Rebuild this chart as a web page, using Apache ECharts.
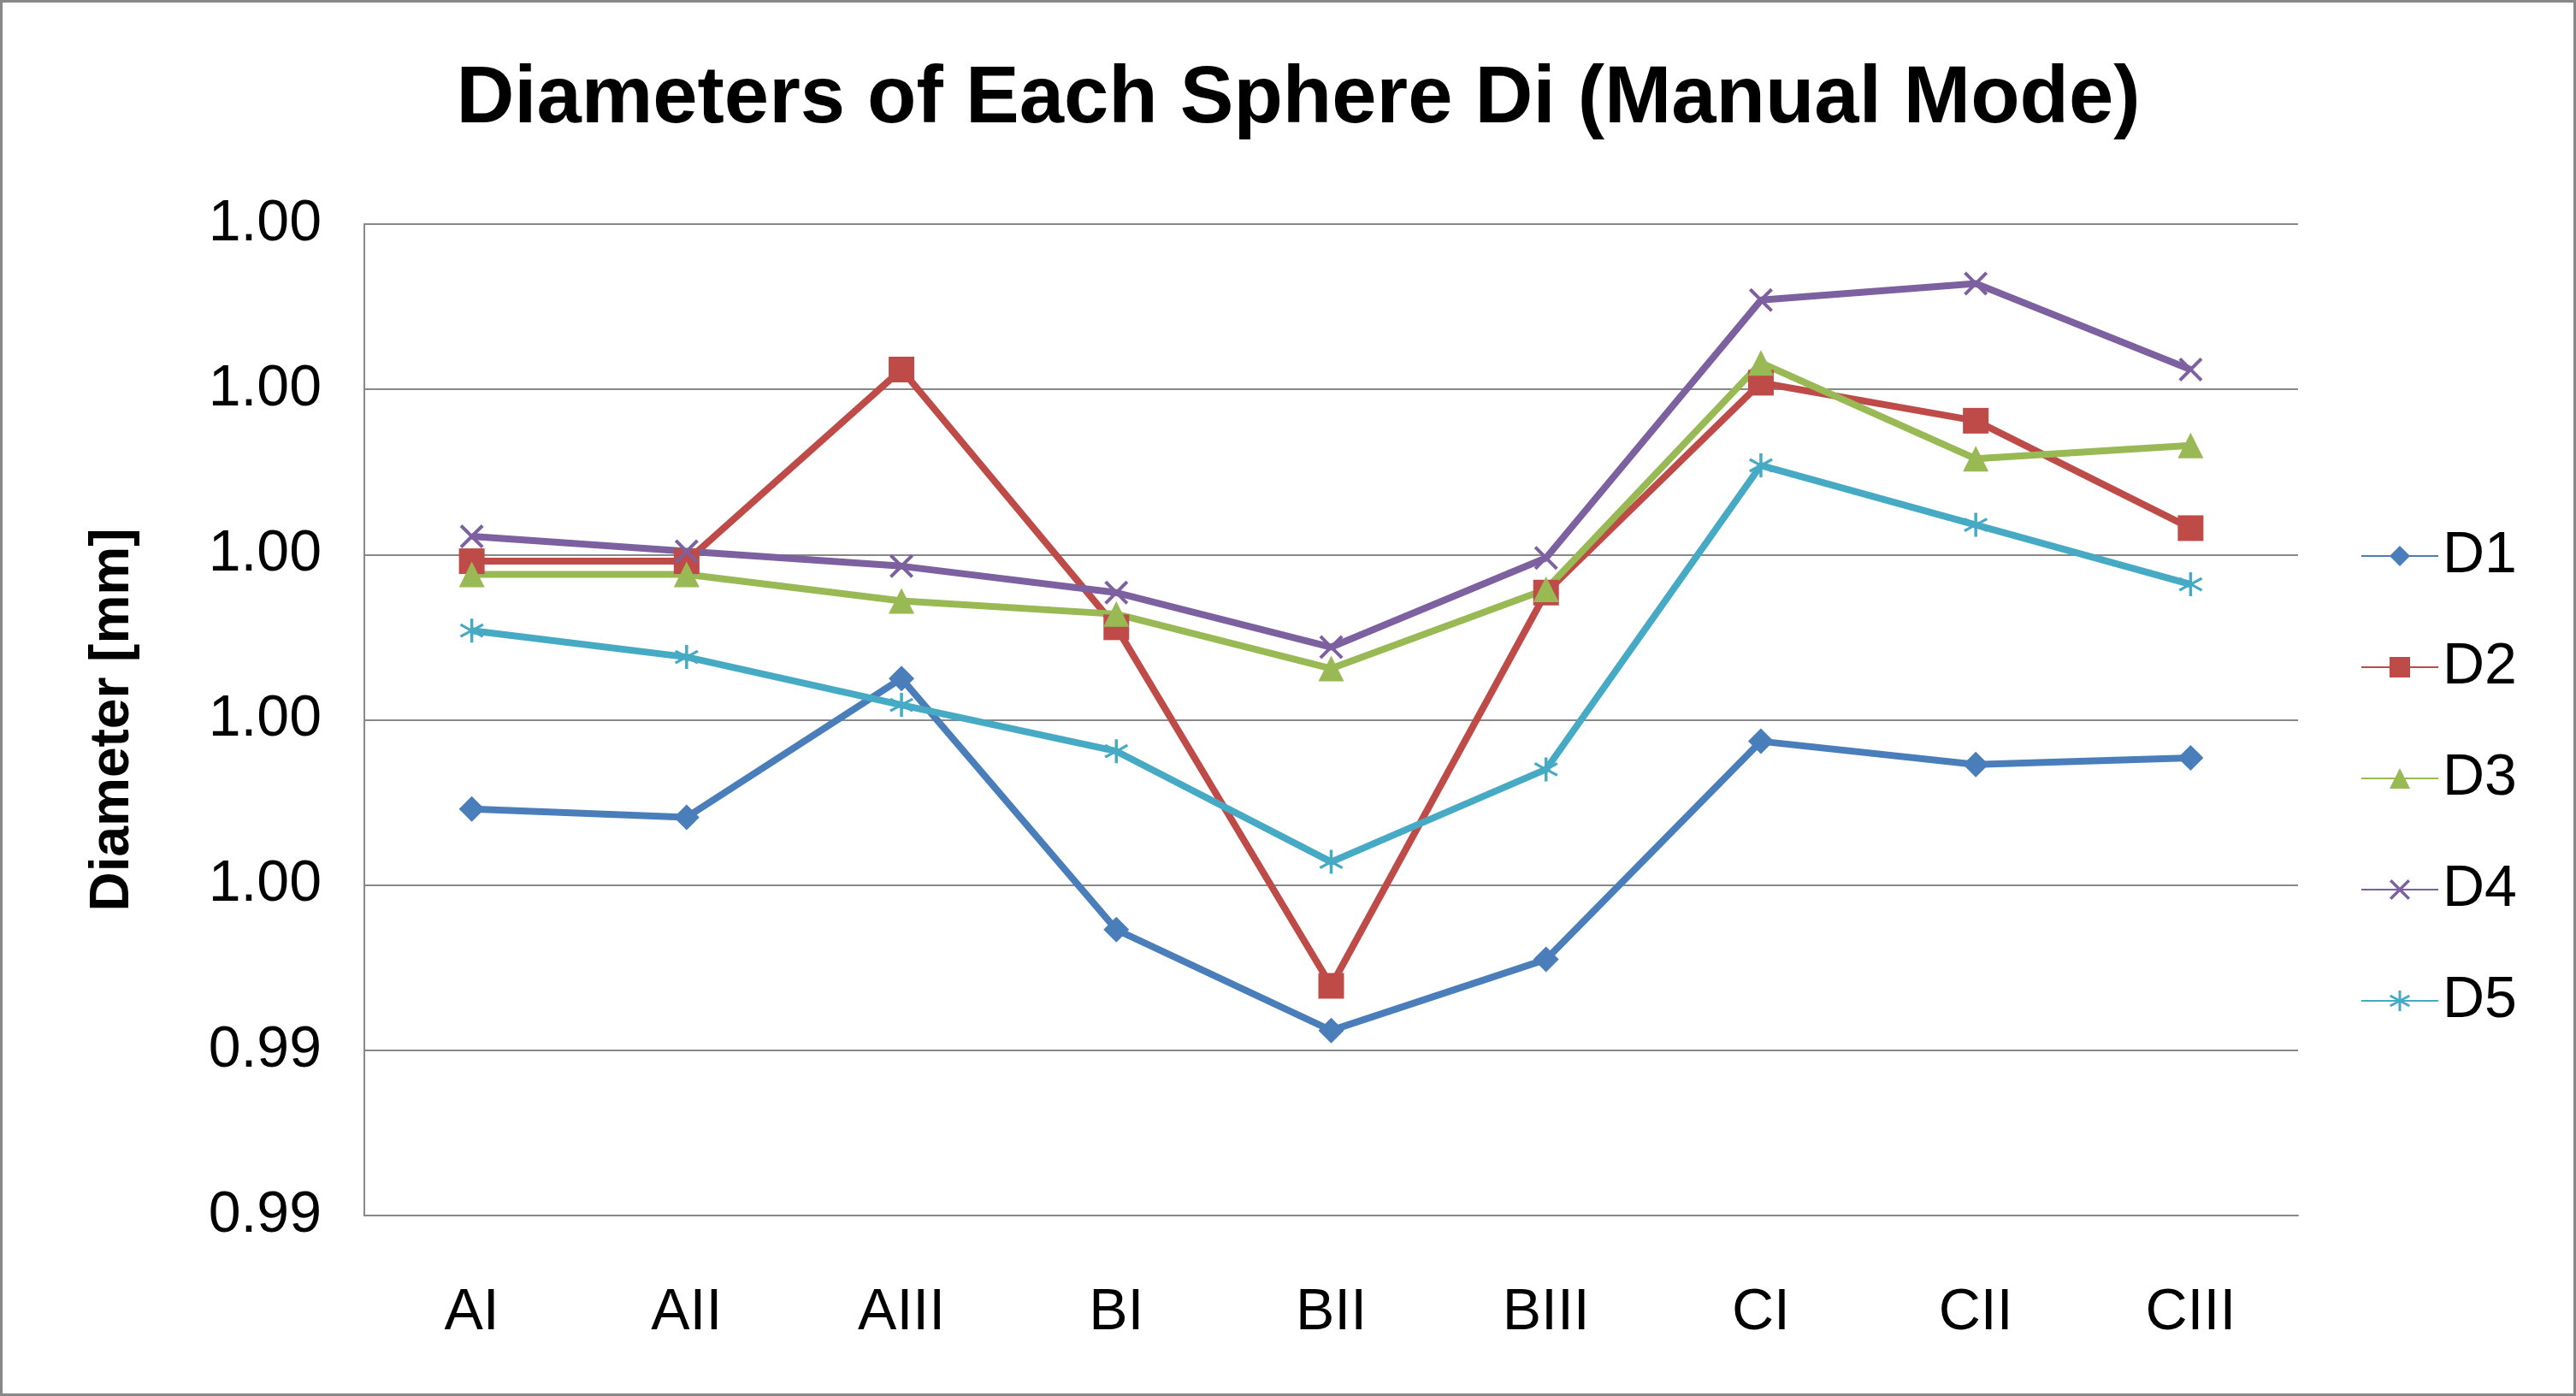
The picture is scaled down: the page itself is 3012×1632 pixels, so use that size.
<!DOCTYPE html>
<html><head><meta charset="utf-8">
<script src="https://cdn.jsdelivr.net/npm/echarts@6/dist/echarts.min.js"></script>
<style>html,body{margin:0;background:#fff}#c{width:3012px;height:1632px;box-sizing:border-box;border:3px solid #888}</style>
</head><body><div id="c"></div>
<script>
// diameters in thousandths of a mm
const cats = ['AI','AII','AIII','BI','BII','BIII','CI','CII','CIII'];
const diam = {
  D1: [996.46,996.41,997.25,995.73,995.12,995.55,996.87,996.73,996.77],
  D2: [997.96,997.96,999.12,997.56,995.39,997.77,999.04,998.81,998.16],
  D3: [997.88,997.88,997.72,997.64,997.31,997.79,999.16,998.58,998.66],
  D4: [998.11,998.02,997.93,997.77,997.44,997.98,999.54,999.64,999.12],
  D5: [997.54,997.38,997.09,996.81,996.14,996.70,998.54,998.18,997.82]
};
const colors = {D1:'#4A7EBB',D2:'#BE4B48',D3:'#98B954',D4:'#7D60A0',D5:'#46AAC5'};
const xPath = 'path://M0,1L1,0L5,4L9,0L10,1L6,5L10,9L9,10L5,6L1,10L0,9L4,5Z';
const starPath = 'path://M4.4,0H5.6V4.1L9.2,2L9.8,3L6.2,5L9.8,7L9.2,8L5.6,5.9V10H4.4V5.9L0.8,8L0.2,7L3.8,5L0.2,3L0.8,2L4.4,4.1Z';
const symbols = {D1:'diamond',D2:'rect',D3:'triangle',D4:xPath,D5:starPath};
const sizes = {D1:30,D2:30,D3:30,D4:28,D5:28};

const chart = echarts.init(document.getElementById('c'));
const font = 'Liberation Sans';
chart.setOption({
  animation:false,
  title:{text:'Diameters of Each Sphere Di (Manual Mode)',left:1510,textAlign:'center',top:62,
    textStyle:{fontFamily:font,fontSize:94,fontWeight:'bold',color:'#000'}},
  grid:{left:423,right:322,top:259,bottom:208},
  legend:{orient:'vertical',left:2752,top:608,itemGap:62,itemWidth:90,itemHeight:30,
    textStyle:{fontFamily:font,fontSize:68,color:'#000'},data:Object.keys(diam)},
  xAxis:{type:'category',data:cats,boundaryGap:true,
    axisLine:{lineStyle:{color:'#888',width:2}},axisTick:{show:false},
    axisLabel:{fontFamily:font,fontSize:68,color:'#000',margin:80}},
  yAxis:{type:'value',min:994,max:1000,interval:1,name:'Diameter [mm]',nameLocation:'middle',nameGap:262,
    nameTextStyle:{fontFamily:font,fontSize:64,fontWeight:'bold',color:'#000'},
    axisLine:{show:true,lineStyle:{color:'#888',width:2}},axisTick:{show:false},
    splitLine:{lineStyle:{color:'#888',width:2}},
    axisLabel:{fontFamily:font,fontSize:68,color:'#000',margin:50,formatter:v=>(v/1000).toFixed(2)}},
  series:Object.keys(diam).map(k=>({name:k,type:'line',data:diam[k],symbol:symbols[k],symbolSize:sizes[k],
    lineStyle:{width:8,color:colors[k]},itemStyle:{color:colors[k]}}))
});
</script></body></html>
